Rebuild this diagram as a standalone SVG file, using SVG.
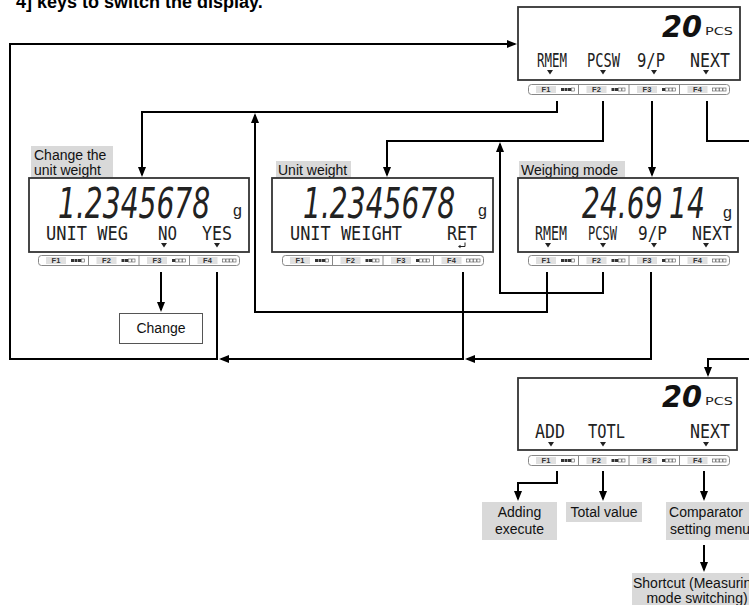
<svg xmlns="http://www.w3.org/2000/svg" xmlns:xlink="http://www.w3.org/1999/xlink" width="749" height="605" viewBox="0 0 749 605">
<defs>
<style>
.ln{fill:none;stroke:#000;stroke-width:2}
.box{fill:#fff;stroke:#333;stroke-width:1.8}
.lbl{fill:#d9d9d9}
.t{font-family:"Liberation Sans",Arial,sans-serif;font-size:14px;fill:#111}
.ct{text-anchor:middle}
.lcd{font-family:"DejaVu Sans Mono",monospace;font-size:20px;fill:#222}
.big{font-family:"DejaVu Sans","Liberation Sans",sans-serif;font-style:italic;font-size:42px;fill:#222}
.big2{font-family:"DejaVu Sans","Liberation Sans",sans-serif;font-style:italic;font-weight:bold;font-size:30px;fill:#111}
.pcs{font-family:"DejaVu Sans",sans-serif;font-size:10px;fill:#222}
.gg{font-family:"Liberation Sans",Arial,sans-serif;font-size:16px;fill:#222}
.fk{font-family:"Liberation Sans",Arial,sans-serif;font-size:7.5px;font-weight:bold;fill:#333;text-anchor:middle}
.fkb{fill:#e0e0e0}
.on{fill:#333}
.off{fill:#fff;stroke:#555;stroke-width:0.6}
.tri{fill:#222}
</style>
<marker id="ah" markerWidth="10" markerHeight="8" refX="8" refY="4" orient="auto" markerUnits="userSpaceOnUse"><path d="M0,0 L10,4 L0,8 z" fill="#000"/></marker>
<g id="strip">
<rect x="0.5" y="0.5" width="201" height="10" rx="3" fill="#fff" stroke="#888"/>
<path d="M50.5,0.5V10.5M101,0.5V10.5M151.5,0.5V10.5" stroke="#888" fill="none"/>
<rect class="fkb" x="8" y="2" width="20" height="7"/><text class="fk" x="18" y="8.3">F1</text>
<rect class="on" x="33" y="4" width="3" height="3"/><rect class="on" x="36.5" y="4" width="3" height="3"/><rect class="on" x="40" y="4" width="3" height="3"/><rect class="off" x="43.5" y="4" width="3" height="3"/>
<rect class="fkb" x="58.5" y="2" width="20" height="7"/><text class="fk" x="68.5" y="8.3">F2</text>
<rect class="on" x="83.5" y="4" width="3" height="3"/><rect class="on" x="87" y="4" width="3" height="3"/><rect class="off" x="90.5" y="4" width="3" height="3"/><rect class="off" x="94" y="4" width="3" height="3"/>
<rect class="fkb" x="109" y="2" width="20" height="7"/><text class="fk" x="119" y="8.3">F3</text>
<rect class="on" x="134" y="4" width="3" height="3"/><rect class="off" x="137.5" y="4" width="3" height="3"/><rect class="off" x="141" y="4" width="3" height="3"/><rect class="off" x="144.5" y="4" width="3" height="3"/>
<rect class="fkb" x="159.5" y="2" width="20" height="7"/><text class="fk" x="169.5" y="8.3">F4</text>
<rect class="off" x="184.5" y="4" width="3" height="3"/><rect class="off" x="188" y="4" width="3" height="3"/><rect class="off" x="191.5" y="4" width="3" height="3"/><rect class="off" x="195" y="4" width="3" height="3"/>
</g>
</defs>
<rect width="749" height="605" fill="#fff"/>
<text x="16" y="8" font-family="Liberation Sans, Arial, sans-serif" font-size="18" font-weight="bold" fill="#000">4] keys to switch the display.</text>

<g id="connectors">
<path class="ln" d="M651,272 V359 H467" marker-end="url(#ah)"/>
<path class="ln" d="M463,272 V359 H221" marker-end="url(#ah)"/>
<path class="ln" d="M217,272 V359 H10 V44 H515" marker-end="url(#ah)"/>
<path class="ln" d="M557,101 V112 H142 V175" marker-end="url(#ah)"/>
<path class="ln" d="M547,272 V312 H255 V115" marker-end="url(#ah)"/>
<path class="ln" d="M603,101 V141 H387 V175" marker-end="url(#ah)"/>
<path class="ln" d="M603,272 V293 H500 V144" marker-end="url(#ah)"/>
<path class="ln" d="M652,101 V175" marker-end="url(#ah)"/>
<path class="ln" d="M707,101 V141 H750"/>
<path class="ln" d="M750,359 H708 V375" marker-end="url(#ah)"/>
<path class="ln" d="M161,272 V310" marker-end="url(#ah)"/>
<path class="ln" d="M557,471 V483 H518 V499" marker-end="url(#ah)"/>
<path class="ln" d="M603,471 V499" marker-end="url(#ah)"/>
<path class="ln" d="M704,471 V499" marker-end="url(#ah)"/>
<path class="ln" d="M704,545 V570" marker-end="url(#ah)"/>
</g>

<g id="display-top">
<rect class="box" x="518" y="7" width="222" height="73"/>
<text class="big2" x="662" y="37" textLength="40" lengthAdjust="spacingAndGlyphs">20</text>
<text class="pcs" x="705" y="35" textLength="28" lengthAdjust="spacingAndGlyphs">PCS</text>
<text class="lcd" x="537" y="67" textLength="30" lengthAdjust="spacingAndGlyphs">RMEM</text>
<text class="lcd" x="587" y="67" textLength="33" lengthAdjust="spacingAndGlyphs">PCSW</text>
<text class="lcd" x="637" y="67" textLength="28" lengthAdjust="spacingAndGlyphs">9/P</text>
<text class="lcd" x="690" y="67" textLength="40" lengthAdjust="spacingAndGlyphs">NEXT</text>
<path class="tri" d="M547,70h6l-3,4.5zM600,70h6l-3,4.5zM651,70h6l-3,4.5zM703,70h6l-3,4.5z"/>
<use xlink:href="#strip" x="528" y="84"/>
</g>

<g id="display-change-unit-weight">
<rect class="lbl" x="31" y="146" width="82" height="32"/>
<text class="t" x="34" y="160">Change the</text>
<text class="t" x="34" y="175">unit weight</text>
<rect class="box" x="29" y="178" width="220" height="74"/>
<text class="big" transform="translate(58,218) scale(0.67,1)">1.2345678</text>
<text class="gg" x="233" y="216">g</text>
<text class="lcd" x="46" y="240" textLength="82" lengthAdjust="spacingAndGlyphs">UNIT WEG</text>
<text class="lcd" x="158" y="240" textLength="19" lengthAdjust="spacingAndGlyphs">NO</text>
<text class="lcd" x="202" y="240" textLength="30" lengthAdjust="spacingAndGlyphs">YES</text>
<path class="tri" d="M161,243h6l-3,4.5zM214,243h6l-3,4.5z"/>
<use xlink:href="#strip" x="38" y="255"/>
</g>

<g id="display-unit-weight">
<rect class="lbl" x="276" y="161" width="75" height="17"/>
<text class="t" x="278" y="175">Unit weight</text>
<rect class="box" x="272" y="178" width="221" height="74"/>
<text class="big" transform="translate(303,218) scale(0.67,1)">1.2345678</text>
<text class="gg" x="478" y="216">g</text>
<text class="lcd" x="290" y="240" textLength="112" lengthAdjust="spacingAndGlyphs">UNIT WEIGHT</text>
<text class="lcd" x="447" y="240" textLength="30" lengthAdjust="spacingAndGlyphs">RET</text>
<path d="M465,242.5V246.5H459" fill="none" stroke="#222" stroke-width="1"/>
<path class="tri" d="M458,246.5l2.5,-1.8v3.6z"/>
<use xlink:href="#strip" x="282" y="255"/>
</g>

<g id="display-weighing-mode">
<rect class="lbl" x="519" y="161" width="106" height="17"/>
<text class="t" x="521" y="175">Weighing mode</text>
<rect class="box" x="518" y="178" width="220" height="74"/>
<text class="big" transform="translate(582,218) scale(0.67,1)"><tspan x="0">24.69</tspan><tspan x="130">14</tspan></text>
<text class="gg" x="723" y="218">g</text>
<text class="lcd" x="535" y="240" textLength="32" lengthAdjust="spacingAndGlyphs">RMEM</text>
<text class="lcd" x="588" y="240" textLength="29" lengthAdjust="spacingAndGlyphs">PCSW</text>
<text class="lcd" x="638" y="240" textLength="29" lengthAdjust="spacingAndGlyphs">9/P</text>
<text class="lcd" x="692" y="240" textLength="40" lengthAdjust="spacingAndGlyphs">NEXT</text>
<path class="tri" d="M545,243h6l-3,4.5zM600,243h6l-3,4.5zM651,243h6l-3,4.5zM703,243h6l-3,4.5z"/>
<use xlink:href="#strip" x="528" y="255"/>
</g>

<g id="node-change">
<rect x="119.5" y="313.5" width="83" height="30" fill="#fff" stroke="#555" stroke-width="1"/>
<text class="t ct" x="161" y="333">Change</text>
</g>

<g id="display-bottom">
<rect class="box" x="518" y="378" width="219" height="72"/>
<text class="big2" x="662" y="407" textLength="40" lengthAdjust="spacingAndGlyphs">20</text>
<text class="pcs" x="705" y="405" textLength="28" lengthAdjust="spacingAndGlyphs">PCS</text>
<text class="lcd" x="535" y="438" textLength="30" lengthAdjust="spacingAndGlyphs">ADD</text>
<text class="lcd" x="588" y="438" textLength="37" lengthAdjust="spacingAndGlyphs">TOTL</text>
<text class="lcd" x="690" y="438" textLength="40" lengthAdjust="spacingAndGlyphs">NEXT</text>
<path class="tri" d="M548,442h6l-3,4.5zM600,442h6l-3,4.5zM703,442h6l-3,4.5z"/>
<use xlink:href="#strip" x="528" y="455"/>
</g>

<g id="node-adding-execute">
<rect class="lbl" x="482" y="502" width="75" height="38"/>
<text class="t ct" x="519.5" y="517">Adding</text>
<text class="t ct" x="519.5" y="534">execute</text>
</g>

<g id="node-total-value">
<rect class="lbl" x="566" y="502" width="76" height="20"/>
<text class="t ct" x="604" y="517">Total value</text>
</g>

<g id="node-comparator">
<rect class="lbl" x="666" y="502" width="90" height="38"/>
<text class="t ct" x="706" y="517">Comparator</text>
<text class="t ct" x="710" y="534">setting menu</text>
</g>

<g id="node-shortcut">
<rect class="lbl" x="632" y="573" width="130" height="40"/>
<text class="t ct" x="696" y="588">Shortcut (Measuring</text>
<text class="t ct" x="697" y="603">mode switching)</text>
</g>
</svg>
